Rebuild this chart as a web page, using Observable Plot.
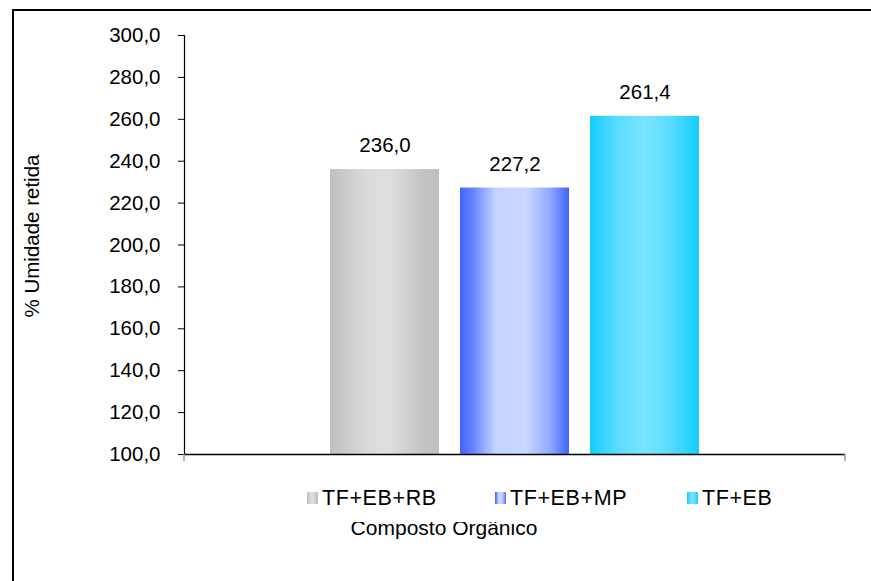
<!DOCTYPE html>
<html>
<head>
<meta charset="utf-8">
<script src="https://cdn.jsdelivr.net/npm/d3@7"></script>
<script src="https://cdn.jsdelivr.net/npm/@observablehq/plot@0.6"></script>
<style>
  html, body { margin: 0; padding: 0; background: #fff; }
  #wrap { position: relative; width: 871px; height: 581px; overflow: hidden; font-family: "Liberation Sans", Arial, sans-serif; color: #000; }
  #frame { position: absolute; left: 12px; top: 9px; width: 900px; height: 620px; border-left: 2px solid #000; border-top: 2px solid #000; }
  #chart { position: absolute; left: 0; top: 0; }
  #ytitle { position: absolute; left: 32px; top: 236px; transform: translate(-50%, -50%) rotate(-90deg); font-size: 20.5px; white-space: nowrap; }
  #xtitle { position: absolute; left: 444px; top: 538px; transform: translate(-50%, -100%); font-size: 21px; white-space: nowrap; line-height: 1; }
  #legend { position: absolute; left: 300px; top: 476px; width: 500px; height: 46px; background: #fff; }
  .item { position: absolute; top: 0; height: 44px; display: flex; align-items: center; font-size: 21.5px; letter-spacing: 0.6px; white-space: nowrap; }
  .sw { width: 11px; height: 12px; margin-right: 4px; }
</style>
</head>
<body>
<div id="wrap">
  <div id="frame"></div>
  <div id="chart"></div>
  <div id="ytitle">% Umidade retida</div>
  <div id="xtitle">Composto Orgânico</div>
  <div id="legend"></div>
</div>
<script>
const categories = ["TF+EB+RB", "TF+EB+MP", "TF+EB"];
const values = [236.0, 227.2, 261.4];
const valueLabels = ["236,0", "227,2", "261,4"];
const yTicks = [100, 120, 140, 160, 180, 200, 220, 240, 260, 280, 300];
const yTickLabels = ["100,0", "120,0", "140,0", "160,0", "180,0", "200,0", "220,0", "240,0", "260,0", "280,0", "300,0"];

const gradients = {
  gGray: [[0, "#bfbfbf"], [0.35, "#dbdbdb"], [0.55, "#dedede"], [0.85, "#c3c3c3"], [1, "#bfbfbf"]],
  gBlue: [[0, "#3e64ff"], [0.12, "#6684ff"], [0.32, "#c4d2ff"], [0.6, "#ccd8ff"], [0.82, "#93aaff"], [1, "#3e64ff"]],
  gCyan: [[0, "#14ccff"], [0.25, "#5adcff"], [0.5, "#7ae5ff"], [0.72, "#5ddcff"], [1, "#14ccff"]]
};
const gradIds = ["gGray", "gBlue", "gCyan"];

const data = categories.map((c, i) => ({cat: c, value: values[i], label: valueLabels[i]}));

const chart = Plot.plot({
  width: 871,
  height: 470,
  marginTop: 35,
  marginBottom: 16,
  marginLeft: 184,
  marginRight: 26,
  style: {fontFamily: "'Liberation Sans', Arial, sans-serif", fontSize: "20.5px", color: "#000", background: "transparent", overflow: "visible"},
  x: {domain: categories, paddingInner: 0.1615, paddingOuter: 1.123, align: 0.5, axis: null},
  y: {domain: [100, 300], axis: null},
  color: {domain: categories, range: gradIds.map(id => `url(#${id})`)},
  marks: [
    Plot.barY(data, {x: "cat", y1: 100, y2: "value", fill: "cat"}),
    Plot.axisY({ticks: yTicks, tickFormat: (d) => yTickLabels[yTicks.indexOf(d)], tickSize: 6, tickPadding: 18, label: null, stroke: "#000", fontSize: 20.5}),
    Plot.ruleY([100], {stroke: "#000", strokeWidth: 1.5}),
    Plot.frame({anchor: "left", stroke: "#000", strokeWidth: 1.2}),
    Plot.text(data, {x: "cat", y: "value", text: "label", dy: -24, fontSize: 20.5, fill: "#000"})
  ]
});

// gradient definitions
const svg = d3.select(chart);
const defs = svg.insert("defs", ":first-child");
for (const id of gradIds) {
  const g = defs.append("linearGradient").attr("id", id).attr("x1", "0").attr("x2", "1").attr("y1", "0").attr("y2", "0");
  for (const [o, c] of gradients[id]) g.append("stop").attr("offset", o).attr("stop-color", c);
}
// small grey end ticks of the category axis
const H = 470, mB = 16, mL = 184, mR = 26, W = 871;
for (const x of [mL, W - mR]) {
  svg.append("line").attr("x1", x).attr("x2", x).attr("y1", H - mB).attr("y2", H - mB + 7)
    .attr("stroke", "#999").attr("stroke-width", 1.5);
}
document.getElementById("chart").appendChild(chart);

// legend
const legend = document.getElementById("legend");
const legendX = [7, 195, 387];
categories.forEach((c, i) => {
  const it = document.createElement("div");
  it.className = "item";
  it.style.left = legendX[i] + "px";
  const sw = document.createElement("div");
  sw.className = "sw";
  sw.style.background = "linear-gradient(to right, " + gradients[gradIds[i]].map(([o, col]) => `${col} ${o * 100}%`).join(", ") + ")";
  const t = document.createElement("span");
  t.textContent = c;
  it.appendChild(sw);
  it.appendChild(t);
  legend.appendChild(it);
});
</script>
</body>
</html>
